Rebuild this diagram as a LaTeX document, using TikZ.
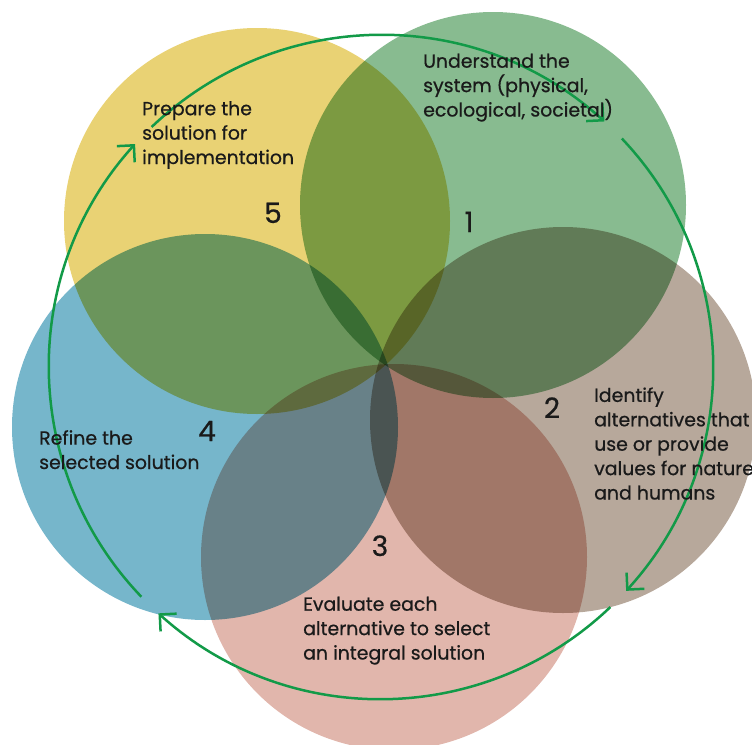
\documentclass[tikz,border=0pt]{standalone}
\usepackage{fontspec}
\setmainfont{Poppins}[FakeBold=0.6]
\usetikzlibrary{arrows.meta}
\definecolor{yellowc}{HTML}{E9D274}
\definecolor{greenc}{HTML}{88BB90}
\definecolor{brownc}{HTML}{B7A89B}
\definecolor{pinkc}{HTML}{E1B6AC}
\definecolor{bluec}{HTML}{76B6CB}
\definecolor{ringc}{HTML}{129A48}
\definecolor{txtc}{HTML}{1A1A1A}
\begin{document}
\begin{tikzpicture}[x=1pt,y=-1pt,
  petal/.style={blend mode=multiply},
  lbl/.style={anchor=base west, align=left, inner sep=0pt, font=\fontsize{18.9}{24.4}\selectfont, text=txtc},
  num/.style={anchor=base, inner sep=0pt, font=\fontsize{28}{28}\selectfont, text=txtc},
  cyc/.style={draw=ringc, line width=2.5pt, -{Straight Barb[length=12pt,width=24pt]}}]
\useasboundingbox (0,0) rectangle (752,744);
% petals
\fill[petal, yellowc] (257,221) circle[radius=193];
\fill[petal, greenc] (493,205) circle[radius=193];
\fill[petal, brownc] (563,420) circle[radius=193];
\fill[petal, pinkc] (394,557) circle[radius=193];
\fill[petal, bluec] (205,427) circle[radius=193];
% cycle ring
\coordinate (ring) at (381,367);
\draw[cyc] (ring) ++(-133.7:332) coordinate (a1) arc[start angle=-133.7, end angle=-47.7, radius=332];
\draw[cyc] (ring) ++(-43.5:332) coordinate (a2) arc[start angle=-43.5, end angle=42.4, radius=332];
\draw[cyc] (ring) ++(46.3:332) coordinate (a3) arc[start angle=46.3, end angle=132.1, radius=332];
\draw[cyc] (ring) ++(136.2:332) coordinate (a4) arc[start angle=136.2, end angle=222.2, radius=332];
% texts (anchor is the baseline of the last line)
\node[lbl] (t1) at (423,116.5) {Understand the\\system (physical,\\ecological, societal)};
\node[lbl] (t2) at (594,499.5) {Identify\\alternatives that\\use or provide\\values for nature\\and humans};
\node[lbl] (t3) at (303,659.5) {Evaluate each\\alternative to select\\an integral solution};
\node[lbl] (t4) at (39,469) {Refine the\\selected solution};
\node[lbl] (t5) at (142,164) {Prepare the\\solution for\\implementation};
% numbers
\node[num] (n1) at (469,232) {1};
\node[num] (n2) at (552,418) {2};
\node[num] (n3) at (380,556) {3};
\node[num] (n4) at (207,441) {4};
\node[num] (n5) at (273,223) {5};
\end{tikzpicture}
\end{document}
